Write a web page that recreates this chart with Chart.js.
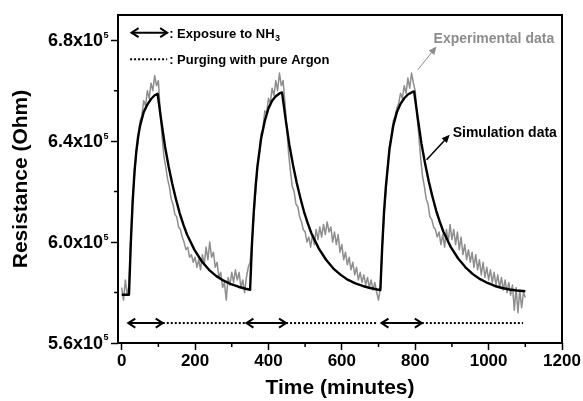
<!DOCTYPE html>
<html>
<head>
<meta charset="utf-8">
<script src="https://cdn.jsdelivr.net/npm/chart.js@4"></script>
<style>
  html, body { margin: 0; padding: 0; background: #fff; }
  canvas { display: block; }
</style>
</head>
<body>
<canvas id="sensorChart" width="583" height="401"></canvas>
<script>
const FONT = '"Liberation Sans", Arial, sans-serif';

// axis ticks
const xTicks = [0, 200, 400, 600, 800, 1000, 1200];
const xMinorTicks = [100, 300, 500, 700, 900, 1100];
const yTicks = [5.6, 6.0, 6.4, 6.8];
const yMinorTicks = [5.8, 6.2, 6.6];

// experimental data (x10^5 Ohm), one reading every 5 minutes from t = 0
const expStep = 5;
const expValues = [
  5.82, 5.77, 5.85, 5.79, 5.83, 6.02, 6.18, 6.26, 6.36, 6.40,
  6.48, 6.50, 6.56, 6.54, 6.60, 6.57, 6.63, 6.60, 6.66, 6.62,
  6.64, 6.52, 6.42, 6.34, 6.30, 6.25, 6.22, 6.17, 6.15, 6.11,
  6.10, 6.06, 6.05, 6.02, 6.00, 5.97, 5.98, 5.94, 5.95, 5.92,
  5.94, 5.90, 5.93, 5.89, 5.95, 5.91, 5.98, 5.93, 6.00, 5.94,
  5.96, 5.90, 5.92, 5.86, 5.88, 5.82, 5.84, 5.77, 5.86, 5.83,
  5.88, 5.84, 5.89, 5.85, 5.88, 5.82, 5.85, 5.80, 5.86, 5.90,
  5.92,
  6.00, 6.10, 6.20, 6.30, 6.35, 6.43, 6.45, 6.52, 6.51, 6.57,
  6.55, 6.61, 6.58, 6.64, 6.60, 6.67, 6.62, 6.64, 6.55, 6.45,
  6.35, 6.28, 6.22, 6.20, 6.15, 6.14, 6.10, 6.08, 6.05, 6.04,
  6.00, 6.02, 5.98, 6.03, 5.99, 6.05, 6.01, 6.06, 6.02, 6.07,
  6.03, 6.08, 6.04, 6.06, 6.00, 6.04, 5.99, 6.03, 5.96, 5.99,
  5.93, 5.96, 5.91, 5.94, 5.89, 5.92, 5.87, 5.90, 5.85, 5.88,
  5.84, 5.87, 5.83, 5.86, 5.82, 5.85, 5.81, 5.84, 5.80, 5.77,
  5.82,
  5.98, 6.10, 6.20, 6.30, 6.38, 6.42, 6.48, 6.50, 6.53, 6.55,
  6.59, 6.57, 6.62, 6.59, 6.65, 6.61, 6.67, 6.63, 6.60, 6.50,
  6.42, 6.33, 6.26, 6.22, 6.17, 6.15, 6.10, 6.09, 6.06, 6.05,
  6.02, 6.04, 5.99, 6.03, 5.98, 6.05, 6.00, 6.07, 6.01, 6.05,
  5.99, 6.04, 5.97, 6.02, 5.95, 5.99, 5.93, 5.97, 5.92, 5.96,
  5.90, 5.95, 5.89, 5.93, 5.87, 5.92, 5.86, 5.90, 5.85, 5.89,
  5.84, 5.88, 5.83, 5.87, 5.82, 5.86, 5.81, 5.85, 5.80, 5.84,
  5.79, 5.83, 5.73, 5.82, 5.72, 5.81, 5.74, 5.80, 5.78
];

// simulation curve
const simTime = [
  0, 20, 25, 30, 35, 40, 45, 50, 60, 70, 80, 90, 98,
  108, 118, 128, 138, 148, 158, 168, 178, 188, 198, 218, 238, 258, 278, 298, 318, 338, 350,
  355, 360, 365, 370, 380, 390, 400, 410, 420, 430, 437,
  447, 457, 467, 477, 487, 497, 507, 517, 527, 537, 557, 577, 597, 617, 637, 657, 677, 697, 705,
  710, 715, 720, 730, 740, 750, 760, 770, 780, 790, 797,
  807, 817, 827, 837, 847, 857, 867, 877, 887, 897, 917, 937, 957, 977, 997, 1017, 1037, 1057, 1077, 1100
];
const simValues = [
  5.791, 5.791, 6.00, 6.16, 6.28, 6.36, 6.42, 6.46, 6.515, 6.545, 6.567, 6.582, 6.588,
  6.48, 6.38, 6.30, 6.23, 6.17, 6.115, 6.07, 6.03, 6.00, 5.97, 5.924, 5.89, 5.865, 5.847, 5.833, 5.823, 5.815, 5.811,
  5.99, 6.12, 6.22, 6.30, 6.41, 6.48, 6.53, 6.56, 6.578, 6.589, 6.593,
  6.485, 6.385, 6.305, 6.235, 6.175, 6.12, 6.075, 6.035, 6.005, 5.975, 5.93, 5.895, 5.87, 5.85, 5.836, 5.826, 5.818, 5.812, 5.81,
  5.98, 6.12, 6.22, 6.37, 6.46, 6.515, 6.548, 6.57, 6.585, 6.593, 6.597,
  6.49, 6.39, 6.31, 6.24, 6.18, 6.125, 6.08, 6.04, 6.01, 5.98, 5.935, 5.90, 5.873, 5.853, 5.838, 5.826, 5.818, 5.812, 5.808, 5.805
];

// NH3 exposure (double arrows) and argon purge (dotted) periods
const exposureStart = [18, 340, 708];
const exposureEnd = [112, 448, 818];
const purgeEnd = [336, 698, 1094];
const markerLevel = 5.679;

const expData = expValues.map((v, i) => ({ x: i * expStep, y: v }));
const simData = simTime.map((t, i) => ({ x: t, y: simValues[i] }));

const datasets = [
  { data: simData, borderColor: '#000', borderWidth: 2.4, order: 0 },
  { data: expData, borderColor: '#8e8e8e', borderWidth: 1.5, order: 1 }
];
exposureStart.forEach((s, i) => {
  datasets.push({
    data: [{ x: s, y: markerLevel }, { x: exposureEnd[i], y: markerLevel }],
    borderColor: '#000', borderWidth: 2, order: 2
  });
  datasets.push({
    data: [{ x: exposureEnd[i], y: markerLevel }, { x: purgeEnd[i], y: markerLevel }],
    borderColor: '#000', borderWidth: 2, borderDash: [2, 2], order: 2
  });
});

function chevron(ctx, x, y, dir) {
  ctx.beginPath();
  ctx.moveTo(x - dir * 7, y - 4.5);
  ctx.lineTo(x, y);
  ctx.lineTo(x - dir * 7, y + 4.5);
  ctx.stroke();
}

function pointer(ctx, x1, y1, x2, y2, color, width) {
  const a = Math.atan2(y2 - y1, x2 - x1);
  ctx.strokeStyle = color;
  ctx.fillStyle = color;
  ctx.lineWidth = width;
  ctx.beginPath();
  ctx.moveTo(x1, y1);
  ctx.lineTo(x2 - 5 * Math.cos(a), y2 - 5 * Math.sin(a));
  ctx.stroke();
  ctx.beginPath();
  ctx.moveTo(x2, y2);
  ctx.lineTo(x2 - 8 * Math.cos(a) + 3.5 * Math.sin(a), y2 - 8 * Math.sin(a) - 3.5 * Math.cos(a));
  ctx.lineTo(x2 - 8 * Math.cos(a) - 3.5 * Math.sin(a), y2 - 8 * Math.sin(a) + 3.5 * Math.cos(a));
  ctx.closePath();
  ctx.fill();
}

const figurePlugin = {
  id: 'figure',
  afterDraw(chart) {
    const { ctx, chartArea: a, scales: { x, y } } = chart;
    ctx.save();

    // frame
    ctx.strokeStyle = '#000';
    ctx.lineWidth = 2;
    ctx.strokeRect(a.left, a.top, a.right - a.left, a.bottom - a.top);

    // minor ticks
    ctx.lineWidth = 1.5;
    ctx.beginPath();
    xMinorTicks.forEach(v => {
      const px = x.getPixelForValue(v);
      ctx.moveTo(px, a.bottom);
      ctx.lineTo(px, a.bottom + 4);
    });
    yMinorTicks.forEach(v => {
      const py = y.getPixelForValue(v);
      ctx.moveTo(a.left, py);
      ctx.lineTo(a.left - 4, py);
    });
    ctx.stroke();

    // y tick labels with exponent
    ctx.fillStyle = '#000';
    yTicks.forEach(v => {
      const py = y.getPixelForValue(v);
      ctx.font = 'bold 18px ' + FONT;
      ctx.textAlign = 'right';
      ctx.textBaseline = 'middle';
      ctx.fillText(v.toFixed(1) + 'x10', 103, py + 1);
      ctx.font = 'bold 9px ' + FONT;
      ctx.textAlign = 'left';
      ctx.fillText('5', 103.5, py - 5);
    });

    // arrowheads on exposure markers
    ctx.lineWidth = 2;
    const my = y.getPixelForValue(markerLevel);
    exposureStart.forEach((s, i) => {
      chevron(ctx, x.getPixelForValue(s), my, -1);
      chevron(ctx, x.getPixelForValue(exposureEnd[i]), my, 1);
    });

    // key
    const k1 = y.getPixelForValue(6.83);
    const k2 = y.getPixelForValue(6.725);
    const kx1 = x.getPixelForValue(27);
    const kx2 = x.getPixelForValue(124);
    ctx.beginPath();
    ctx.moveTo(kx1, k1);
    ctx.lineTo(kx2, k1);
    ctx.stroke();
    chevron(ctx, kx1, k1, -1);
    chevron(ctx, kx2, k1, 1);
    ctx.setLineDash([2, 2]);
    ctx.beginPath();
    ctx.moveTo(x.getPixelForValue(23), k2);
    ctx.lineTo(kx2, k2);
    ctx.stroke();
    ctx.setLineDash([]);

    ctx.font = 'bold 13px ' + FONT;
    ctx.textAlign = 'left';
    ctx.textBaseline = 'middle';
    const label1 = ': Exposure to NH';
    const tx = kx2 + 2;
    ctx.fillText(label1, tx, k1 + 2);
    const w1 = ctx.measureText(label1).width;
    ctx.font = 'bold 9px ' + FONT;
    ctx.fillText('3', tx + w1 + 0.5, k1 + 6);
    ctx.font = 'bold 13px ' + FONT;
    ctx.fillText(': Purging with pure Argon', tx, k2 + 1);

    // series labels
    ctx.font = 'bold 14px ' + FONT;
    ctx.fillStyle = '#8c8c8c';
    ctx.fillText('Experimental data', x.getPixelForValue(850), y.getPixelForValue(6.806));
    pointer(ctx, x.getPixelForValue(807), y.getPixelForValue(6.683),
      x.getPixelForValue(858), y.getPixelForValue(6.775), '#8c8c8c', 1);
    ctx.fillStyle = '#000';
    ctx.fillText('Simulation data', x.getPixelForValue(902), y.getPixelForValue(6.433));
    pointer(ctx, x.getPixelForValue(831), y.getPixelForValue(6.326),
      x.getPixelForValue(894), y.getPixelForValue(6.425), '#000', 1.5);

    ctx.restore();
  }
};

new Chart(document.getElementById('sensorChart'), {
  type: 'line',
  data: { datasets },
  options: {
    responsive: false,
    animation: false,
    layout: { padding: { top: 15, right: 21, left: 0, bottom: 0 } },
    plugins: { legend: { display: false }, tooltip: { enabled: false } },
    elements: { point: { radius: 0 }, line: { tension: 0, borderJoinStyle: 'round' } },
    scales: {
      x: {
        type: 'linear',
        min: -10,
        max: 1200,
        afterBuildTicks: s => { s.ticks = xTicks.map(v => ({ value: v })); },
        afterFit: s => { s.height = 58; },
        border: { display: false },
        grid: { drawOnChartArea: false, color: '#000', tickColor: '#000', tickLength: 7, tickWidth: 1.5 },
        ticks: {
          color: '#000', padding: 1, maxRotation: 0,
          font: { family: FONT, size: 17, weight: 'bold' },
          callback: v => String(v)
        },
        title: {
          display: true, text: 'Time (minutes)', color: '#000',
          font: { family: FONT, size: 21, weight: 'bold' }, padding: { top: 0, bottom: 0 }
        }
      },
      y: {
        min: 5.6,
        max: 6.9,
        afterBuildTicks: s => { s.ticks = yTicks.map(v => ({ value: v })); },
        afterFit: s => { s.width = 118; },
        border: { display: false },
        grid: { drawOnChartArea: false, color: '#000', tickColor: '#000', tickLength: 7, tickWidth: 1.5 },
        ticks: { display: false },
        title: {
          display: true, text: 'Resistance (Ohm)', color: '#000',
          font: { family: FONT, size: 21, weight: 'bold' }, padding: { top: 9, bottom: 0 }
        }
      }
    }
  },
  plugins: [figurePlugin]
});
</script>
</body>
</html>
